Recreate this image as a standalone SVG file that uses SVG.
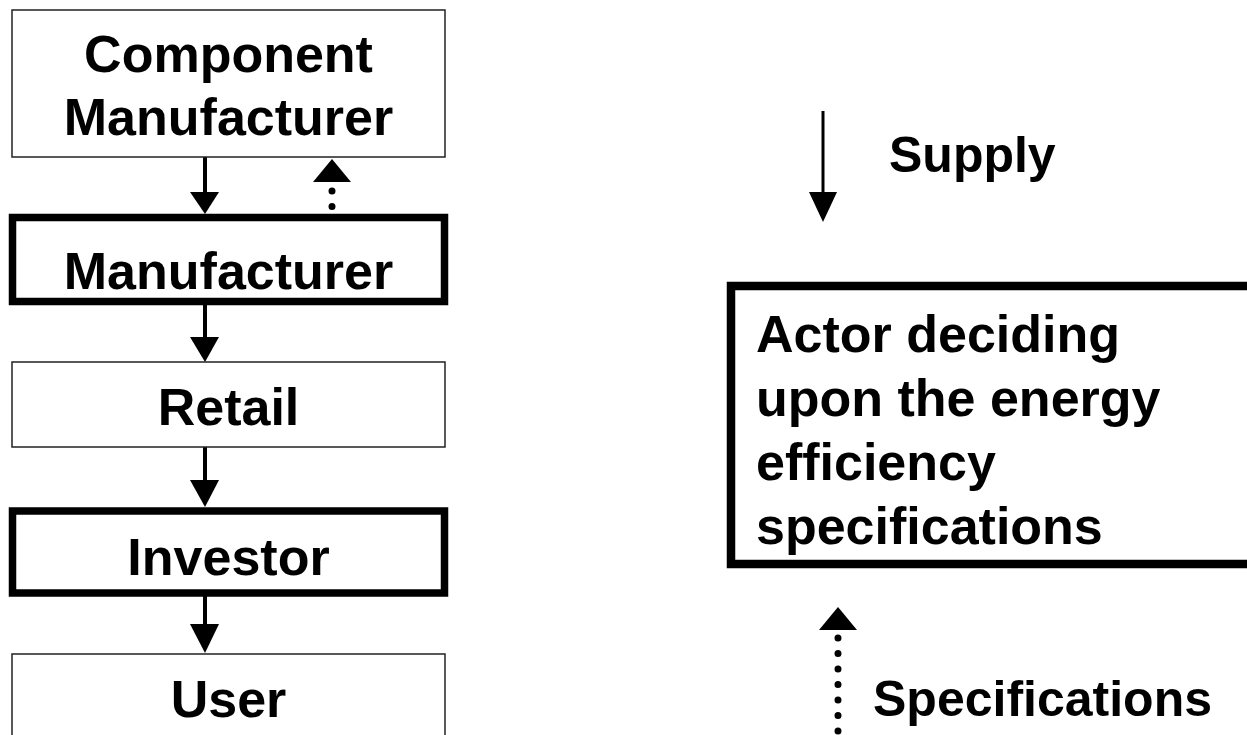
<svg xmlns="http://www.w3.org/2000/svg" width="1247" height="735" viewBox="0 0 1247 735">
<style>
  text { font-family: "Liberation Sans", Arial, sans-serif; font-weight: bold; font-size: 52px; fill: #000; }
  .c { text-anchor: middle; }
  .lbl { font-size: 50px; }
  .thin { fill: #fff; stroke: #222; stroke-width: 1.5; }
  .thick { fill: #fff; stroke: #000; stroke-width: 7.5; }
  .solid { stroke: #000; stroke-width: 4; fill: none; }
  .dots { stroke: #000; stroke-width: 7; stroke-linecap: round; stroke-dasharray: 0 15.5; fill: none; }
  .head { fill: #000; }
</style>
<rect width="1247" height="735" fill="#fff"/>
<g id="connectors">
  <line class="solid" x1="205" y1="157" x2="205" y2="195"/>
  <polygon class="head" points="190,192 219,192 205,214"/>
  <line class="dots" x1="332" y1="222" x2="332" y2="190"/>
  <polygon class="head" points="313,182 351,182 332,159"/>
  <line class="solid" x1="205" y1="305" x2="205" y2="340"/>
  <polygon class="head" points="190,337 219,337 205,362"/>
  <line class="solid" x1="205" y1="447" x2="205" y2="483"/>
  <polygon class="head" points="190,480 219,480 205,507"/>
  <line class="solid" x1="205" y1="596" x2="205" y2="627"/>
  <polygon class="head" points="190,624 219,624 205,653"/>
  <line class="solid" x1="823" y1="111" x2="823" y2="195" style="stroke-width:3"/>
  <polygon class="head" points="809,192 837,192 823,222"/>
  <line class="dots" x1="838" y1="638" x2="838" y2="740"/>
  <polygon class="head" points="819,630 857,630 838,607"/>
</g>
<g id="component-manufacturer">
  <rect class="thin" x="12" y="10" width="433" height="147"/>
  <text class="c" x="228.5" y="72">Component</text>
  <text class="c" x="228.5" y="135">Manufacturer</text>
</g>
<g id="manufacturer">
  <rect class="thick" x="12.5" y="217.5" width="432" height="84"/>
  <text class="c" x="228.5" y="289">Manufacturer</text>
</g>
<g id="retail">
  <rect class="thin" x="12" y="362" width="433" height="85"/>
  <text class="c" x="228.5" y="425">Retail</text>
</g>
<g id="investor">
  <rect class="thick" x="12.5" y="511" width="432" height="82"/>
  <text class="c" x="228.5" y="575">Investor</text>
</g>
<g id="user">
  <rect class="thin" x="12" y="654" width="433" height="90"/>
  <text class="c" x="228.5" y="717">User</text>
</g>
<g id="actor">
  <rect class="thick" x="731" y="286" width="540" height="278" style="stroke-width:8.5"/>
  <text x="756" y="352">Actor deciding</text>
  <text x="756" y="416">upon the energy</text>
  <text x="756" y="480">efficiency</text>
  <text x="756" y="544">specifications</text>
</g>
<g id="labels">
  <text class="lbl" x="889" y="172">Supply</text>
  <text class="lbl" x="873" y="716">Specifications</text>
</g>
</svg>
